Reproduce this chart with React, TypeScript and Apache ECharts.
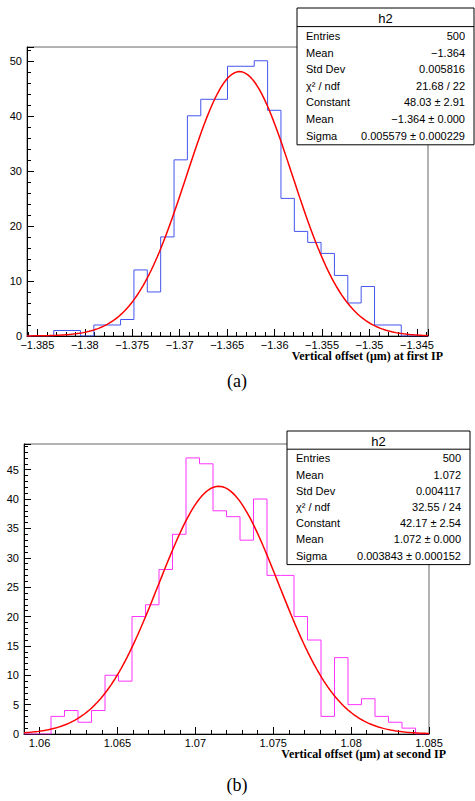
import React, { useEffect, useRef } from "react";
import * as echarts from "echarts";

const binsA = [0,0,1,1,0,2,2,3,12,8,18,32,40,43,43,49,49,50,41,25,19,17,15,11,6,9,2,2,0,0];
const rangeA = [-1.38609, -1.34384];
const fitA = [48.03, -1.3637, 0.005579];
const statsA = [["Entries","500"],["Mean","\u22121.364"],["Std Dev","0.005816"],["\u03c7\u00b2 / ndf","21.68 / 22"],["Constant","48.03 \u00b1 2.91"],["Mean","\u22121.364 \u00b1 0.000"],["Sigma","0.005579 \u00b1 0.000229"]];

const binsB = [0,0,3,4,2,4,10,9,20,22,28,34,47,46,38,37,33,40,27,27,20,16,3,13,5,6,3,2,1,0];
const rangeB = [1.059, 1.085];
const fitB = [42.17, 1.0715, 0.003843];
const statsB = [["Entries","500"],["Mean","1.072"],["Std Dev","0.004117"],["\u03c7\u00b2 / ndf","32.55 / 24"],["Constant","42.17 \u00b1 2.54"],["Mean","1.072 \u00b1 0.000"],["Sigma","0.003843 \u00b1 0.000152"]];

function stepData(bins: number[], r: number[]) {
  const w = (r[1] - r[0]) / bins.length;
  const d: number[][] = bins.map((v, i) => [r[0] + i * w, v]);
  d.push([r[1], bins[bins.length - 1]]);
  return d;
}
function fitData(p: number[], r: number[]) {
  const d: number[][] = [];
  for (let i = 0; i <= 200; i++) {
    const x = r[0] + ((r[1] - r[0]) * i) / 200;
    d.push([x, p[0] * Math.exp(-0.5 * ((x - p[1]) / p[2]) ** 2)]);
  }
  return d;
}
const fmt = (v: number) => String(+v.toFixed(4)).replace("-", "\u2212");
function statBox(x: number, y: number, w: number, rows: string[][], rowH: number) {
  const els: any[] = [];
  const h = rowH * (rows.length + 1) + 4;
  els.push({ type: "rect", shape: { x, y, width: w, height: h }, style: { fill: "#fff", stroke: "#000", lineWidth: 1 }, z: 10 });
  els.push({ type: "line", shape: { x1: x, y1: y + rowH + 2, x2: x + w, y2: y + rowH + 2 }, style: { stroke: "#000", lineWidth: 1 }, z: 11 });
  els.push({ type: "text", x: x + w / 2, y: y + rowH / 2 + 2, style: { text: "h2", fontSize: 13, fontFamily: "Liberation Sans", fill: "#000", align: "center", verticalAlign: "middle" }, z: 11 });
  rows.forEach((r, i) => {
    const cy = y + rowH * (i + 1.5) + 3;
    els.push({ type: "text", x: x + 9, y: cy, style: { text: r[0], fontSize: 11, fontFamily: "Liberation Sans", fill: "#000", verticalAlign: "middle" }, z: 11 });
    els.push({ type: "text", x: x + w - 9, y: cy, style: { text: r[1], fontSize: 11, fontFamily: "Liberation Sans", fill: "#000", align: "right", verticalAlign: "middle" }, z: 11 });
  });
  return els;
}

export default function App() {
  const ref = useRef<HTMLDivElement>(null);
  useEffect(() => {
    const chart = echarts.init(ref.current!, undefined, { renderer: "svg" });
    const xAx = (r: number[], gi: number, sn: number, showMax: boolean) => ({
      type: "value", gridIndex: gi, min: r[0], max: r[1], splitNumber: sn,
      axisLine: { lineStyle: { color: "#000" } },
      axisTick: { inside: true, length: 7, lineStyle: { color: "#000" } },
      minorTick: { show: true, splitNumber: 5, length: 4, lineStyle: { color: "#000" } },
      axisLabel: { showMinLabel: false, showMaxLabel: showMax, fontSize: 11, color: "#000", fontFamily: "Liberation Sans", margin: 3, formatter: fmt },
      splitLine: { show: false },
    });
    const yAx = (max: number, iv: number, gi: number) => ({
      type: "value", gridIndex: gi, min: 0, max, interval: iv,
      axisLine: { show: true, lineStyle: { color: "#000" } },
      axisTick: { show: true, inside: true, length: 7, lineStyle: { color: "#000" } },
      minorTick: { show: true, splitNumber: 5, length: 4, lineStyle: { color: "#000" } },
      axisLabel: { showMaxLabel: false, fontSize: 11, color: "#000", fontFamily: "Liberation Sans", margin: 5 },
      splitLine: { show: false },
    });
    const titleStyle = { fontSize: 12, fontWeight: "bold", fontFamily: "Liberation Serif", fill: "#000", align: "right" };
    chart.setOption({
      animation: false,
      grid: [
        { left: 27, right: 47, top: 47, height: 289, show: true, borderColor: "#666", backgroundColor: "transparent" },
        { left: 24, right: 46, top: 444, height: 290, show: true, borderColor: "#666", backgroundColor: "transparent" },
      ],
      xAxis: [xAx(rangeA, 0, 9, false), xAx(rangeB, 1, 5, true)],
      yAxis: [yAx(52.5, 10, 0), yAx(49.37, 5, 1)],
      series: [
        { type: "line", xAxisIndex: 0, yAxisIndex: 0, step: "end", data: stepData(binsA, rangeA), symbol: "none", lineStyle: { color: "#4455ee", width: 1 } },
        { type: "line", xAxisIndex: 0, yAxisIndex: 0, data: fitData(fitA, rangeA), symbol: "none", lineStyle: { color: "#ff0000", width: 1.5 } },
        { type: "line", xAxisIndex: 1, yAxisIndex: 1, step: "end", data: stepData(binsB, rangeB), symbol: "none", lineStyle: { color: "#ff33ff", width: 1 } },
        { type: "line", xAxisIndex: 1, yAxisIndex: 1, data: fitData(fitB, rangeB), symbol: "none", lineStyle: { color: "#ff0000", width: 1.5 } },
      ],
      graphic: [
        ...statBox(297, 8, 177, statsA, 16.6),
        ...statBox(287, 431, 183, statsB, 16.2),
        { type: "text", x: 443, y: 350, style: { ...titleStyle, text: "Vertical offset (\u03bcm) at first IP" } },
        { type: "text", x: 446, y: 748, style: { ...titleStyle, text: "Vertical offset (\u03bcm) at second IP" } },
        { type: "text", x: 237, y: 372, style: { text: "(a)", fontSize: 18, fontFamily: "Liberation Serif", fill: "#000", align: "center" } },
        { type: "text", x: 237, y: 776, style: { text: "(b)", fontSize: 18, fontFamily: "Liberation Serif", fill: "#000", align: "center" } },
      ],
    });
    return () => chart.dispose();
  }, []);
  return <div ref={ref} style={{ width: 475, height: 801, position: "absolute", left: 0, top: 0 }} />;
}
